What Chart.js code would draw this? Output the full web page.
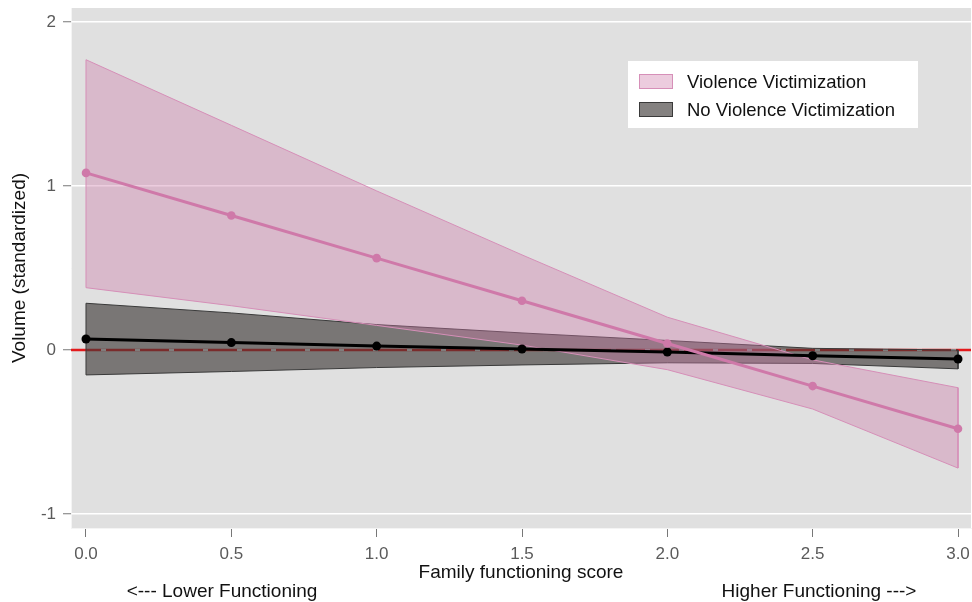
<!DOCTYPE html>
<html>
<head>
<meta charset="utf-8">
<script src="https://cdn.jsdelivr.net/npm/chart.js@4/dist/chart.umd.min.js"></script>
<style>
  html, body { margin: 0; padding: 0; background: #fff; }
  #wrap { width: 972px; height: 602px; }
</style>
</head>
<body>
<div id="wrap"><canvas id="chart" width="972" height="602"></canvas></div>
<script>
// values
const xValues = [0, 0.5, 1, 1.5, 2, 2.5, 3];
const xTicks = [0, 0.5, 1, 1.5, 2, 2.5, 3];
const yTicks = [-1, 0, 1, 2];

const violenceMean = [1.08, 0.82, 0.56, 0.30, 0.04, -0.22, -0.48];
const violenceUpper = [1.77, 1.37, 0.97, 0.58, 0.20, -0.06, -0.23];
const violenceLower = [0.38, 0.27, 0.15, 0.03, -0.12, -0.36, -0.72];

const noViolenceMean = [0.067, 0.045, 0.024, 0.006, -0.012, -0.035, -0.055];
const noViolenceUpper = [0.285, 0.226, 0.155, 0.104, 0.058, 0.01, 0.0];
const noViolenceLower = [-0.152, -0.131, -0.107, -0.091, -0.078, -0.082, -0.115];

const zeroLine = [0, 0];
const zeroLineX = [0, 3];

const seriesLabels = ['Violence Victimization', 'No Violence Victimization'];
const xTitle = 'Family functioning score';
const yTitle = 'Volume (standardized)';
const lowerNote = '<--- Lower Functioning';
const higherNote = 'Higher Functioning --->';

const FONT = '"Liberation Sans", Arial, Helvetica, sans-serif';
const pink = '#cf79a9';
const pinkFill = 'rgba(204, 121, 167, 0.38)';
const grayFill = 'rgba(60, 55, 54, 0.63)';

const points = (ys) => ys.map((y, i) => ({ x: xValues[i], y }));

// closed polygon: upper edge left->right, lower edge right->left
const band = (upper, lower) => {
  const top = points(upper);
  const bottom = points(lower).reverse();
  return top.concat(bottom, [top[0]]);
};

const plotBackground = {
  id: 'plotBackground',
  beforeDraw(chart) {
    const { ctx, chartArea: a } = chart;
    ctx.save();
    ctx.fillStyle = '#e0e0e0';
    ctx.fillRect(a.left, a.top, a.right - a.left, a.bottom - a.top);
    ctx.restore();
  },
  beforeDatasetsDraw(chart) {
    // red reference line at 0 across the whole plot
    const { ctx, chartArea: a, scales } = chart;
    const y = scales.y.getPixelForValue(0);
    ctx.save();
    ctx.strokeStyle = '#e31a1c';
    ctx.lineWidth = 2.5;
    ctx.beginPath();
    ctx.moveTo(a.left, y);
    ctx.lineTo(a.right, y);
    ctx.stroke();
    ctx.restore();
  },
};

const legendBox = {
  id: 'legendBox',
  afterDraw(chart) {
    const { ctx } = chart;
    const items = chart.data.datasets
      .filter((d) => d.inLegend)
      .sort((a, b) => seriesLabels.indexOf(a.label) - seriesLabels.indexOf(b.label));
    ctx.save();
    ctx.fillStyle = '#fff';
    ctx.fillRect(628, 61, 290, 67);
    ctx.font = `18.5px ${FONT}`;
    ctx.textBaseline = 'middle';
    items.forEach((d, i) => {
      const y = 74 + i * 28;
      ctx.fillStyle = '#fff';
      ctx.fillRect(639, y, 33, 14);
      ctx.fillStyle = d.backgroundColor;
      ctx.fillRect(639, y, 33, 14);
      ctx.strokeStyle = d.borderColor;
      ctx.lineWidth = 1;
      ctx.strokeRect(639.5, y + 0.5, 33, 14);
      ctx.fillStyle = '#111';
      ctx.fillText(d.label, 687, y + 9);
    });
    ctx.restore();
  },
};

const notes = {
  id: 'notes',
  afterDraw(chart) {
    const { ctx } = chart;
    ctx.save();
    ctx.font = `19px ${FONT}`;
    ctx.fillStyle = '#111';
    ctx.textAlign = 'center';
    ctx.textBaseline = 'middle';
    ctx.fillText(lowerNote, 222, 592);
    ctx.fillText(higherNote, 819, 592);
    ctx.restore();
  },
};

const ctx = document.getElementById('chart').getContext('2d');

new Chart(ctx, {
  type: 'line',
  data: {
    datasets: [
      {
        label: 'zero',
        data: zeroLineX.map((x, i) => ({ x, y: zeroLine[i] })),
        borderColor: '#f4f4f4',
        borderWidth: 2.5,
        borderDash: [5, 29],
        borderDashOffset: 19,
        pointRadius: 0,
        fill: false,
        order: 10,
      },
      {
        label: seriesLabels[1],
        inLegend: true,
        data: band(noViolenceUpper, noViolenceLower),
        borderColor: '#3a3a3a',
        borderWidth: 1,
        backgroundColor: grayFill,
        pointRadius: 0,
        tension: 0,
        fill: 'shape',
        order: 9,
      },
      {
        label: seriesLabels[0],
        inLegend: true,
        data: band(violenceUpper, violenceLower),
        borderColor: '#d68fb8',
        borderWidth: 1,
        backgroundColor: pinkFill,
        pointRadius: 0,
        tension: 0,
        fill: 'shape',
        order: 8,
      },
      {
        label: 'noViolenceMean',
        data: points(noViolenceMean),
        borderColor: '#000',
        backgroundColor: '#000',
        borderWidth: 3,
        pointRadius: 4.5,
        pointBorderWidth: 0,
        fill: false,
        order: 2,
      },
      {
        label: 'violenceMean',
        data: points(violenceMean),
        borderColor: pink,
        backgroundColor: pink,
        borderWidth: 3,
        pointRadius: 4.3,
        pointBorderWidth: 0,
        fill: false,
        order: 1,
      },
    ],
  },
  options: {
    responsive: false,
    animation: false,
    events: [],
    layout: { autoPadding: false, padding: { top: 8, right: 1, left: 0, bottom: 0 } },
    plugins: {
      legend: { display: false },
      tooltip: { enabled: false },
    },
    scales: {
      x: {
        type: 'linear',
        min: -0.0516,
        max: 3.0447,
        afterBuildTicks: (scale) => {
          scale.ticks = xTicks.map((v) => ({ value: v }));
        },
        afterFit: (scale) => {
          scale.height = 74;
          scale.paddingLeft = 0;
          scale.paddingRight = 0;
        },
        grid: {
          drawOnChartArea: false,
          drawTicks: true,
          tickLength: 9,
          tickColor: '#777',
        },
        border: { color: '#f4f4f4', width: 1 },
        ticks: {
          padding: 7,
          color: '#5a5a5a',
          font: { family: FONT, size: 17 },
          maxRotation: 0,
          callback: (v) => Number(v).toFixed(1),
        },
        title: {
          display: true,
          text: xTitle,
          color: '#111',
          font: { family: FONT, size: 19 },
          padding: { top: 0, bottom: 17.5 },
        },
      },
      y: {
        type: 'linear',
        min: -1.0854,
        max: 2.0854,
        afterBuildTicks: (scale) => {
          scale.ticks = yTicks.map((v) => ({ value: v }));
        },
        afterFit: (scale) => {
          scale.width = 71;
          scale.paddingTop = 0;
          scale.paddingBottom = 0;
        },
        grid: {
          color: '#ffffff',
          lineWidth: 1.5,
          drawTicks: true,
          tickLength: 8,
          tickColor: '#777',
          tickWidth: 1,
        },
        border: { color: '#f4f4f4', width: 1 },
        ticks: {
          padding: 7,
          color: '#5a5a5a',
          font: { family: FONT, size: 17 },
          callback: (v) => String(v),
        },
        title: {
          display: true,
          text: yTitle,
          color: '#111',
          font: { family: FONT, size: 19 },
          padding: { top: 8.5, bottom: 0 },
        },
      },
    },
  },
  plugins: [plotBackground, legendBox, notes],
});
</script>
</body>
</html>
